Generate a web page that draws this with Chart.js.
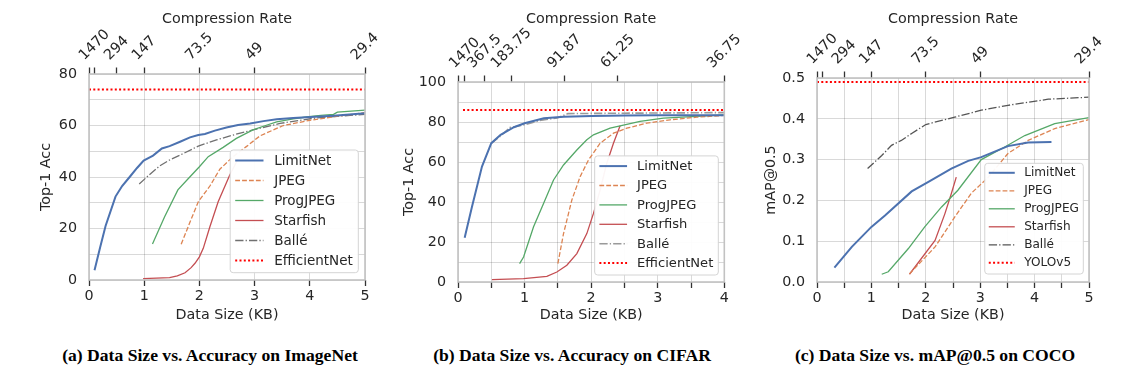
<!DOCTYPE html>
<html>
<head>
<meta charset="utf-8">
<script src="https://cdn.jsdelivr.net/npm/chart.js@4.4.1/dist/chart.umd.min.js"></script>
<style>
  body { margin: 0; background: #fff; width: 1135px; height: 372px; position: relative; overflow: hidden; }
  canvas { position: absolute; top: 0; }
  .cap { position: absolute; top: 345px; font: bold 17.6px/20px "Liberation Serif", serif; color: #000; white-space: nowrap; transform: translateX(-50%); }
</style>
</head>
<body>
<canvas id="ca" width="380" height="330" style="left:0px"></canvas>
<canvas id="cb" width="375" height="330" style="left:380px"></canvas>
<canvas id="cc" width="380" height="330" style="left:755px"></canvas>
<div class="cap" style="left:210px">(a) Data Size vs. Accuracy on ImageNet</div>
<div class="cap" style="left:572px">(b) Data Size vs. Accuracy on CIFAR</div>
<div class="cap" style="left:935px">(c) Data Size vs. mAP@0.5 on COCO</div>
<script>
// ---- data: (a) ImageNet, Top-1 Acc vs data size (KB)
const imgLimitX = [0.1, 0.2, 0.3, 0.48, 0.6, 0.74, 0.87, 0.99, 1.16, 1.32, 1.46, 1.65, 1.83, 1.98, 2.1, 2.28, 2.49, 2.7, 2.92, 3.16, 3.4, 3.7, 3.94, 4.43, 5.0];
const imgLimitY = [3.8, 12.5, 21, 32.4, 36.5, 40.1, 43.5, 46.4, 48.3, 51.1, 52, 53.7, 55.4, 56.3, 56.7, 58, 59.2, 60.2, 60.8, 61.7, 62.4, 62.9, 63.2, 63.8, 64.8];
const imgJpegX = [1.67, 1.83, 1.98, 2.19, 2.37, 2.61, 2.85, 3.1, 3.52, 4.0, 4.43, 5.0];
const imgJpegY = [13.9, 22.5, 30.4, 36.5, 43, 47.9, 51.8, 56, 60, 62, 63.4, 65];
const imgProgX = [1.15, 1.37, 1.61, 1.83, 2.0, 2.16, 2.43, 2.67, 2.97, 3.2, 3.4, 3.7, 3.94, 4.2, 4.43, 4.5, 5.0];
const imgProgY = [14, 24.6, 35, 40.1, 44, 47.9, 51.5, 55, 58.3, 60, 61.4, 62.6, 63.3, 63.9, 64.3, 65.2, 66];
const imgStarX = [0.98, 1.46, 1.6, 1.74, 1.85, 1.92, 2.0, 2.07, 2.19, 2.34, 2.55, 2.7];
const imgStarY = [0.5, 0.9, 1.6, 2.8, 4.8, 6.5, 9, 12.3, 20.7, 30.4, 40.8, 47];
const imgBalleX = [0.91, 1.1, 1.28, 1.45, 1.65, 1.98, 2.31, 2.61, 2.97, 3.46, 4.06, 4.5, 5.0];
const imgBalleY = [37.3, 41, 44.3, 46.5, 48.5, 52, 54.4, 56.3, 58.3, 60.8, 62.8, 63.6, 64.3];
const imgRefX = [0, 5];
const imgRefY = [74, 74];

// ---- data: (b) CIFAR
const cifLimitX = [0.1, 0.21, 0.36, 0.5, 0.64, 0.84, 1.0, 1.29, 1.59, 2.01, 2.51, 3.0, 4.0];
const cifLimitY = [22.1, 37.6, 57.7, 69.4, 73.6, 77.4, 79.4, 81.9, 82.6, 83, 83.3, 83.4, 83.4];
const cifJpegX = [1.5, 1.585, 1.71, 1.835, 1.96, 2.135, 2.335, 2.535, 2.835, 3.185, 3.585, 4.0];
const cifJpegY = [9.2, 24.2, 41, 52.7, 61, 69.4, 74.4, 76.9, 79.4, 81.1, 82.4, 83.3];
const cifProgX = [0.925, 0.985, 1.135, 1.285, 1.435, 1.585, 1.785, 1.935, 2.035, 2.285, 2.435, 2.735, 3.085, 3.585, 4.0];
const cifProgY = [9.2, 12.5, 27.6, 39.3, 51, 58.5, 66, 71.1, 73.6, 76.9, 78.1, 80.3, 81.9, 82.8, 83.6];
const cifStarX = [0.51, 0.985, 1.335, 1.485, 1.635, 1.785, 1.935, 2.035, 2.135, 2.235, 2.335, 2.435];
const cifStarY = [1.2, 1.7, 2.8, 5, 8.4, 14.2, 24.2, 34.3, 46, 59.4, 69.4, 78.1];
const cifBalleX = [0.5, 0.64, 0.78, 1.0, 1.23, 1.49, 1.65, 2.03, 3.0, 4.0];
const cifBalleY = [69.3, 73, 77.2, 78.6, 80.8, 82, 84.2, 84.3, 84.5, 84.7];
const cifRefX = [0.075, 4];
const cifRefY = [86, 86];

// ---- data: (c) COCO, mAP@0.5
const cocoLimitX = [0.32, 0.64, 1.0, 1.25, 1.74, 2.04, 2.47, 2.78, 3.02, 3.51, 3.88, 4.31];
const cocoLimitY = [0.035, 0.086, 0.135, 0.163, 0.222, 0.245, 0.278, 0.297, 0.306, 0.333, 0.342, 0.343];
const cocoJpegX = [1.7, 2.17, 2.53, 2.84, 3.15, 3.51, 3.88, 4.37, 5.0];
const cocoJpegY = [0.02, 0.086, 0.159, 0.218, 0.257, 0.315, 0.347, 0.376, 0.398];
const cocoProgX = [1.19, 1.31, 1.68, 1.98, 2.29, 2.59, 3.02, 3.45, 3.82, 4.37, 5.0];
const cocoProgY = [0.019, 0.025, 0.082, 0.135, 0.184, 0.225, 0.3, 0.331, 0.359, 0.388, 0.403];
const cocoStarX = [1.7, 2.17, 2.35, 2.47, 2.56];
const cocoStarY = [0.019, 0.102, 0.167, 0.217, 0.257];
const cocoBalleX = [0.93, 1.19, 1.37, 1.55, 1.74, 2.0, 2.53, 3.02, 3.51, 4.25, 5.0];
const cocoBalleY = [0.278, 0.31, 0.335, 0.347, 0.364, 0.386, 0.404, 0.421, 0.433, 0.448, 0.453];
const cocoRefX = [0, 5];
const cocoRefY = [0.49, 0.49];

// ---- top axis (compression rate) ticks
const rateTicks = [0, 0.1, 0.5, 1, 2, 3, 5];
const rateLabels = ['', '1470', '294', '147', '73.5', '49', '29.4'];
const cifRateTicks = [0, 0.1, 0.4, 0.8, 1.6, 2.4, 4];
const cifRateLabels = ['', '1470', '367.5', '183.75', '91.87', '61.25', '36.75'];

const FONT = '"DejaVu Sans", sans-serif';
const FS = 14.3;
const TXT = '#262626';
const GRID = 'rgba(0,0,0,0.15)';

function series(label, xs, ys, color, width, dash){
  return { label, data: xs.map((x, i) => ({ x, y: ys[i] })), borderColor: color, borderWidth: width,
           borderDash: dash || [], borderCapStyle: 'butt', pointRadius: 0, tension: 0, fill: false };
}

// frame, rotated top labels, legend box inside the plot
const extras = {
  id: 'extras',
  afterDatasetsDraw(chart, args, o){
    const { ctx, chartArea: a } = chart;
    ctx.save();
    ctx.strokeStyle = '#c2c2c2'; ctx.lineWidth = 1.6; ctx.setLineDash([]);
    ctx.strokeRect(a.left, a.top, a.right - a.left, a.bottom - a.top);

    const top = chart.scales.xTop;
    ctx.font = FS + 'px ' + FONT; ctx.fillStyle = TXT;
    ctx.textAlign = 'center'; ctx.textBaseline = 'middle';
    o.topLabels.forEach((t, i) => {
      if (!t) return;
      const px = top.getPixelForValue(o.topTicks[i]);
      const w = ctx.measureText(t).width;
      const cy = a.top - 12.5 - (w + 10) * 0.3536;
      ctx.save(); ctx.translate(px, cy); ctx.rotate(-Math.PI / 4); ctx.fillText(t, 0, 0); ctx.restore();
    });

    const L = o.legend, ds = chart.data.datasets;
    ctx.font = L.fs + 'px ' + FONT;
    const tw = Math.max(...ds.map(d => ctx.measureText(d.label).width));
    const bw = L.padL + L.line + L.gap + tw + L.padR;
    const bh = ds.length * L.rowH + 2.7;
    const bx = a.right - L.right - bw, by = a.bottom - L.bottom - bh;
    ctx.beginPath(); ctx.roundRect(bx, by, bw, bh, 3);
    ctx.fillStyle = 'rgba(255,255,255,0.95)'; ctx.fill();
    ctx.strokeStyle = '#d4d4d4'; ctx.lineWidth = 1; ctx.stroke();
    ds.forEach((d, i) => {
      const cy = by + L.rowH / 2 + 0.5 + i * L.rowH;
      ctx.beginPath(); ctx.setLineDash(d.borderDash); ctx.lineCap = 'butt';
      ctx.strokeStyle = d.borderColor; ctx.lineWidth = d.borderWidth;
      ctx.moveTo(bx + L.padL, cy); ctx.lineTo(bx + L.padL + L.line, cy); ctx.stroke();
      ctx.setLineDash([]);
      ctx.fillStyle = TXT; ctx.textAlign = 'left'; ctx.textBaseline = 'middle';
      ctx.fillText(d.label, bx + L.padL + L.line + L.gap, cy + 0.5);
    });
    ctx.restore();
  }
};

function makeChart(id, p){
  const H = 330;
  const tickFont = { family: FONT, size: FS };
  return new Chart(document.getElementById(id), {
    type: 'line',
    data: { datasets: p.series },
    options: {
      responsive: false, animation: false, devicePixelRatio: 1,
      layout: { padding: { left: 0, right: p.width - p.right, top: 0, bottom: 0 } },
      plugins: { legend: { display: false }, tooltip: { enabled: false },
                 extras: { topTicks: p.topTicks, topLabels: p.topLabels, legend: p.legend } },
      scales: {
        x: {
          type: 'linear', position: 'bottom', min: 0, max: p.xMax,
          afterFit: s => { s.height = H - p.bottom; },
          ticks: { stepSize: p.xStep, autoSkip: false, maxRotation: 0, padding: 1.9, color: TXT, font: tickFont,
                   callback: v => Number.isInteger(v) ? String(v) : '' },
          grid: { color: GRID, lineWidth: 1, tickColor: '#333', tickLength: 6, tickWidth: 1.3 },
          border: { display: false },
          title: { display: true, text: 'Data Size (KB)', color: TXT, font: tickFont, padding: { top: 0, bottom: 6.4 } }
        },
        xTop: {
          type: 'linear', position: 'top', min: 0, max: p.xMax,
          afterFit: s => { s.height = p.top; },
          afterBuildTicks: s => { s.ticks = p.topTicks.map(v => ({ value: v })); },
          ticks: { autoSkip: false, maxRotation: 0, callback: () => '' },
          grid: { drawOnChartArea: false, tickColor: '#333', tickLength: 6.5, tickWidth: 1.3 },
          border: { display: false },
          title: { display: true, text: 'Compression Rate', color: TXT, font: tickFont, padding: { top: 10.7, bottom: 0 } }
        },
        y: {
          type: 'linear', min: 0, max: p.yMax,
          afterFit: s => { s.width = p.left; },
          ticks: { stepSize: p.yStep, autoSkip: false, padding: 12, color: TXT, font: tickFont, callback: p.yFmt },
          grid: { color: GRID, lineWidth: 1, drawTicks: false },
          border: { display: false },
          title: { display: true, text: p.yTitle, color: TXT, font: tickFont, padding: { top: p.yTitlePad, bottom: 0 } }
        }
      }
    },
    plugins: [extras]
  });
}

const BLUE = '#4C72B0', ORANGE = '#DD8452', GREEN = '#55A868', RED = '#C44E52';
const DASH = [4.8, 2.1], DASHDOT = [8.3, 2.1, 1.3, 2.1], DOT = [2, 2.3];

makeChart('ca', {
  width: 380, left: 89, right: 365, top: 74, bottom: 280,
  xMax: 5, xStep: 1, yMax: 80, yStep: 10, yTitle: 'Top-1 Acc', yTitlePad: 38.1,
  yFmt: v => v % 20 === 0 ? String(v) : '',
  topTicks: rateTicks, topLabels: rateLabels,
  legend: { fs: 13.5, rowH: 20, line: 28.3, padL: 5, gap: 10.7, padR: 5.5, right: 6.7, bottom: 7.3 },
  series: [
    series('LimitNet', imgLimitX, imgLimitY, BLUE, 2),
    series('JPEG', imgJpegX, imgJpegY, ORANGE, 1.3, DASH),
    series('ProgJPEG', imgProgX, imgProgY, GREEN, 1.3),
    series('Starfish', imgStarX, imgStarY, RED, 1.3),
    series('Ballé', imgBalleX, imgBalleY, '#707070', 1.3, DASHDOT),
    series('EfficientNet', imgRefX, imgRefY, '#ff0000', 2, DOT)
  ]
});

makeChart('cb', {
  width: 375, left: 78, right: 344.3, top: 82, bottom: 282,
  xMax: 4, xStep: 0.5, yMax: 100, yStep: 10, yTitle: 'Top-1 Acc', yTitlePad: 20.7,
  yFmt: v => v % 20 === 0 ? String(v) : '',
  topTicks: cifRateTicks, topLabels: cifRateLabels,
  legend: { fs: 13.1, rowH: 19.4, line: 27.7, padL: 4.7, gap: 10, padR: 5, right: 6, bottom: 7 },
  series: [
    series('LimitNet', cifLimitX, cifLimitY, BLUE, 2),
    series('JPEG', cifJpegX, cifJpegY, ORANGE, 1.3, DASH),
    series('ProgJPEG', cifProgX, cifProgY, GREEN, 1.3),
    series('Starfish', cifStarX, cifStarY, RED, 1.3),
    series('Ballé', cifBalleX, cifBalleY, '#9a9a9a', 1.6, DASHDOT),
    series('EfficientNet', cifRefX, cifRefY, '#ff0000', 2, DOT)
  ]
});

makeChart('cc', {
  width: 380, left: 62, right: 334, top: 78, bottom: 282,
  xMax: 5, xStep: 0.5, yMax: 0.5, yStep: 0.1, yTitle: 'mAP@0.5', yTitlePad: 8.1,
  yFmt: v => v.toFixed(1),
  topTicks: rateTicks, topLabels: rateLabels,
  legend: { fs: 12.1, rowH: 18, line: 26, padL: 4, gap: 9.4, padR: 4.4, right: 5.7, bottom: 8 },
  series: [
    series('LimitNet', cocoLimitX, cocoLimitY, BLUE, 2),
    series('JPEG', cocoJpegX, cocoJpegY, ORANGE, 1.3, DASH),
    series('ProgJPEG', cocoProgX, cocoProgY, GREEN, 1.3),
    series('Starfish', cocoStarX, cocoStarY, RED, 1.3),
    series('Ballé', cocoBalleX, cocoBalleY, '#555555', 1.3, DASHDOT),
    series('YOLOv5', cocoRefX, cocoRefY, '#ff0000', 2, DOT)
  ]
});
</script>
</body>
</html>
